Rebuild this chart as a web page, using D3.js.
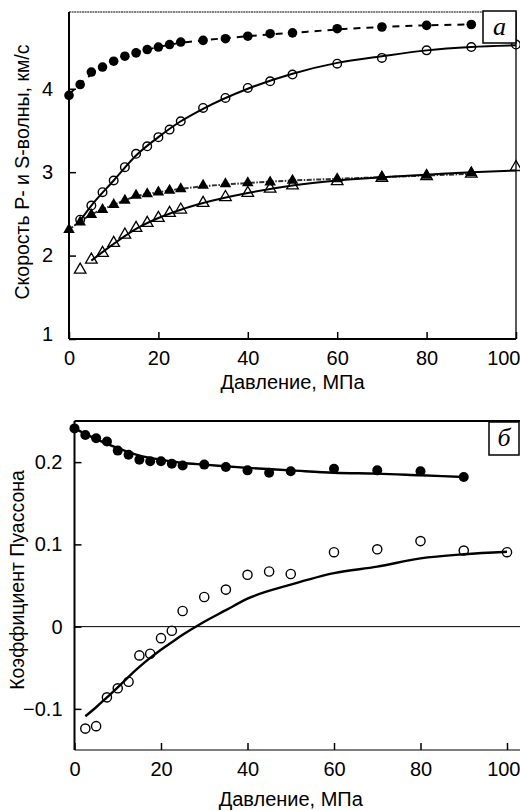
<!DOCTYPE html>
<html>
<head>
<meta charset="utf-8">
<script src="https://cdn.jsdelivr.net/npm/d3@7"></script>
<style>
  body { margin: 0; background: #fff; }
  text { font-family: "Liberation Sans", Arial, sans-serif; fill: #000; }
</style>
</head>
<body>
<svg id="chart"></svg>
<script>
// Pressure steps, MPa
const pressureDry = [0, 2.5, 5, 7.5, 10, 12.5, 15, 17.5, 20, 22.5, 25, 30, 35, 40, 45, 50, 60, 70, 80, 90];
const pressureSat = [2.5, 5, 7.5, 10, 12.5, 15, 17.5, 20, 22.5, 25, 30, 35, 40, 45, 50, 60, 70, 80, 90, 100];

// Panel a: velocities, km/s
const vpDry = [3.92, 4.05, 4.20, 4.26, 4.33, 4.39, 4.43, 4.47, 4.50, 4.53, 4.56, 4.58, 4.60, 4.63, 4.66, 4.67, 4.72, 4.74, 4.76, 4.77];
const vpSat = [2.43, 2.60, 2.76, 2.90, 3.06, 3.22, 3.31, 3.42, 3.51, 3.61, 3.77, 3.89, 4.01, 4.09, 4.17, 4.30, 4.37, 4.46, 4.50, 4.53];
const vsDry = [2.31, 2.40, 2.49, 2.55, 2.61, 2.66, 2.72, 2.74, 2.76, 2.78, 2.80, 2.84, 2.86, 2.87, 2.88, 2.90, 2.92, 2.94, 2.96, 2.99];
const vsSat = [1.83, 1.95, 2.03, 2.15, 2.25, 2.33, 2.39, 2.45, 2.51, 2.55, 2.63, 2.70, 2.75, 2.80, 2.84, 2.89, 2.93, 2.95, 2.98, 3.06];

// Panel a: fitted curves
const fitPressureA = [0, 2.5, 5, 10, 15, 20, 25, 30, 40, 50, 60, 70, 80, 90, 100];
const vpDryFit = [3.93, 4.06, 4.17, 4.32, 4.43, 4.50, 4.55, 4.58, 4.63, 4.67, 4.71, 4.74, 4.76, 4.77, null];
const vpSatFit = [null, 2.42, 2.60, 2.90, 3.20, 3.42, 3.61, 3.76, 4.00, 4.18, 4.31, 4.39, 4.46, 4.50, 4.52];
const vsDryFit = [2.31, 2.41, 2.49, 2.61, 2.71, 2.76, 2.80, 2.83, 2.87, 2.90, 2.92, 2.94, 2.96, 2.98, null];
const vsSatFit = [null, null, 1.94, 2.14, 2.32, 2.45, 2.55, 2.63, 2.75, 2.84, 2.90, 2.94, 2.97, 3.00, 3.02];

// Panel б: Poisson ratio
const prDry = [0.241, 0.233, 0.229, 0.225, 0.214, 0.209, 0.203, 0.201, 0.201, 0.198, 0.196, 0.197, 0.194, 0.190, 0.187, 0.189, 0.192, 0.190, 0.189, 0.182];
const prSat = [-0.124, -0.121, -0.086, -0.075, -0.067, -0.035, -0.033, -0.014, -0.005, 0.019, 0.036, 0.045, 0.063, 0.067, 0.064, 0.0905, 0.094, 0.104, 0.0925, 0.0905];
const fitPressureDryB = [0, 5, 10, 15, 20, 25, 30, 40, 50, 60, 70, 80, 90];
const prDryFit = [0.241, 0.228, 0.217, 0.208, 0.203, 0.199, 0.197, 0.193, 0.190, 0.187, 0.186, 0.184, 0.182];
const fitPressureSatB = [2.5, 5, 7.5, 10, 12.5, 15, 17.5, 20, 22.5, 25, 30, 35, 40, 50, 60, 70, 80, 90, 100];
const prSatFit = [-0.109, -0.098, -0.086, -0.074, -0.061, -0.049, -0.038, -0.028, -0.019, -0.010, 0.006, 0.020, 0.034, 0.051, 0.065, 0.073, 0.083, 0.088, 0.091];

const xTicks = [0, 20, 40, 60, 80, 100];
const yTicksA = [1, 2, 3, 4];
const yTicksB = [-0.1, 0, 0.1, 0.2];

const width = 520;
const height = 811;
const svg = d3.select("#chart").attr("width", width).attr("height", height);

const zip = (xs, ys) => xs.map((x, i) => [x, ys[i]]).filter(d => d[1] != null);

// ---------- Panel a ----------
const xA = d3.scaleLinear().domain([0, 100]).range([69, 516]);
const yA = d3.scaleLinear().domain([1, 4.92]).range([339, 12]);

const gA = svg.append("g");

// x axis (ticks point inward, labels outside)
gA.append("g")
  .attr("transform", `translate(0,${yA(1)})`)
  .call(d3.axisBottom(xA).tickValues(xTicks).tickSizeInner(-7).tickSizeOuter(0).tickPadding(12))
  .call(g => g.select(".domain").remove())
  .call(g => g.selectAll("line").attr("stroke-width", 1.5))
  .call(g => g.selectAll("text").attr("font-size", 20)
    .attr("text-anchor", d => d === 100 ? "end" : "middle")
    .attr("dx", d => d === 100 ? 4 : 0));

gA.append("g")
  .attr("transform", `translate(${xA(0)},0)`)
  .call(d3.axisLeft(yA).tickValues(yTicksA).tickFormat(d3.format("d")).tickSizeInner(-7).tickSizeOuter(0).tickPadding(16))
  .call(g => g.select(".domain").remove())
  .call(g => g.selectAll("line").attr("stroke-width", 1.5))
  .call(g => g.selectAll("text").attr("font-size", 20).attr("dy", d => d === 1 ? "0.05em" : "0.32em"));

// frame
gA.append("line").attr("x1", xA(0)).attr("x2", xA(100)).attr("y1", yA(4.92)).attr("y2", yA(4.92))
  .attr("stroke", "#000").attr("stroke-width", 1).attr("stroke-dasharray", "2,0.6");
gA.append("line").attr("x1", xA(100)).attr("x2", xA(100)).attr("y1", yA(4.92)).attr("y2", yA(1))
  .attr("stroke", "#000").attr("stroke-width", 1.3);
gA.append("line").attr("x1", xA(0)).attr("x2", xA(100)).attr("y1", yA(1)).attr("y2", yA(1))
  .attr("stroke", "#000").attr("stroke-width", 2);
gA.append("line").attr("x1", xA(0)).attr("x2", xA(0)).attr("y1", yA(4.92)).attr("y2", yA(1))
  .attr("stroke", "#000").attr("stroke-width", 2);

const lineA = d3.line().x(d => xA(d[0])).y(d => yA(d[1])).curve(d3.curveMonotoneX);

gA.append("path").datum(zip(fitPressureA, vpDryFit)).attr("d", lineA)
  .attr("fill", "none").attr("stroke", "#000").attr("stroke-width", 2).attr("stroke-dasharray", "7,6");
gA.append("path").datum(zip(fitPressureA, vpSatFit)).attr("d", lineA)
  .attr("fill", "none").attr("stroke", "#000").attr("stroke-width", 2);
gA.append("path").datum(zip(fitPressureA, vsDryFit)).attr("d", lineA)
  .attr("fill", "none").attr("stroke", "#333").attr("stroke-width", 2).attr("stroke-dasharray", "5,1.5,1.5,1.5");
gA.append("path").datum(zip(fitPressureA, vsSatFit)).attr("d", lineA)
  .attr("fill", "none").attr("stroke", "#000").attr("stroke-width", 2);

const tri = d3.symbol().type(d3.symbolTriangle).size(58);

gA.selectAll("circle.vpdry").data(zip(pressureDry, vpDry)).join("circle")
  .attr("cx", d => xA(d[0])).attr("cy", d => yA(d[1])).attr("r", 4.8).attr("fill", "#000");
gA.selectAll("circle.vpsat").data(zip(pressureSat, vpSat)).join("circle")
  .attr("class", "vpsat")
  .attr("cx", d => xA(d[0])).attr("cy", d => yA(d[1])).attr("r", 4.3)
  .attr("fill", "none").attr("stroke", "#000").attr("stroke-width", 1.4);
gA.selectAll("path.vsdry").data(zip(pressureDry, vsDry)).join("path")
  .attr("class", "vsdry").attr("d", tri)
  .attr("transform", d => `translate(${xA(d[0])},${yA(d[1])})`).attr("fill", "#000");
gA.selectAll("path.vssat").data(zip(pressureSat, vsSat)).join("path")
  .attr("class", "vssat").attr("d", tri)
  .attr("transform", d => `translate(${xA(d[0])},${yA(d[1])})`)
  .attr("fill", "none").attr("stroke", "#000").attr("stroke-width", 1.3);

// panel letter
gA.append("rect").attr("x", 483).attr("y", 11).attr("width", 33).attr("height", 32)
  .attr("fill", "#fff").attr("stroke", "#000").attr("stroke-width", 1.5);
gA.append("text").attr("x", 499.5).attr("y", 35).attr("text-anchor", "middle")
  .style("font-family", "'Liberation Serif', serif").style("font-style", "italic")
  .attr("font-size", 26).text("a");

gA.append("text").attr("x", xA(50)).attr("y", 389).attr("text-anchor", "middle")
  .attr("font-size", 20).text("Давление, МПа");
gA.append("text").attr("transform", "translate(29,172) rotate(-90)").attr("text-anchor", "middle")
  .attr("font-size", 19.5).text("Скорость P- и S-волны, км/с");

// ---------- Panel б ----------
const xB = d3.scaleLinear().domain([0, 100]).range([74.5, 507]);
const yB = d3.scaleLinear().domain([-0.15, 0.25]).range([750, 421]);

const gB = svg.append("g");

gB.append("g")
  .attr("transform", `translate(0,${yB(-0.15)})`)
  .call(d3.axisBottom(xB).tickValues(xTicks).tickSizeInner(-7).tickSizeOuter(0).tickPadding(12))
  .call(g => g.select(".domain").remove())
  .call(g => g.selectAll("line").attr("stroke-width", 1.5))
  .call(g => g.selectAll("text").attr("font-size", 20)
    .attr("text-anchor", d => d === 100 ? "end" : "middle")
    .attr("dx", d => d === 100 ? 13 : 0));

gB.append("g")
  .attr("transform", `translate(${xB(0)},0)`)
  .call(d3.axisLeft(yB).tickValues(yTicksB).tickFormat(d => d === 0 ? "0" : d3.format(".1f")(d)).tickSizeInner(-7).tickSizeOuter(0).tickPadding(12))
  .call(g => g.select(".domain").remove())
  .call(g => g.selectAll("line").attr("stroke-width", 1.5))
  .call(g => g.selectAll("text").attr("font-size", 20));

// frame
gB.append("line").attr("x1", xB(0)).attr("x2", width).attr("y1", yB(0.25)).attr("y2", yB(0.25))
  .attr("stroke", "#000").attr("stroke-width", 2);
gB.append("line").attr("x1", xB(0)).attr("x2", width).attr("y1", yB(-0.15)).attr("y2", yB(-0.15))
  .attr("stroke", "#000").attr("stroke-width", 1.2);
gB.append("line").attr("x1", xB(0)).attr("x2", width).attr("y1", yB(0)).attr("y2", yB(0))
  .attr("stroke", "#000").attr("stroke-width", 1);
gB.append("line").attr("x1", xB(0)).attr("x2", xB(0)).attr("y1", yB(0.25)).attr("y2", yB(-0.15))
  .attr("stroke", "#000").attr("stroke-width", 2);

const lineB = d3.line().x(d => xB(d[0])).y(d => yB(d[1])).curve(d3.curveMonotoneX);

gB.append("path").datum(zip(fitPressureDryB, prDryFit)).attr("d", lineB)
  .attr("fill", "none").attr("stroke", "#000").attr("stroke-width", 2.4);
gB.append("path").datum(zip(fitPressureSatB, prSatFit)).attr("d", lineB)
  .attr("fill", "none").attr("stroke", "#000").attr("stroke-width", 2.4);

gB.selectAll("circle.prdry").data(zip(pressureDry, prDry)).join("circle")
  .attr("class", "prdry")
  .attr("cx", d => xB(d[0])).attr("cy", d => yB(d[1])).attr("r", 5).attr("fill", "#000");
gB.selectAll("circle.prsat").data(zip(pressureSat, prSat)).join("circle")
  .attr("class", "prsat")
  .attr("cx", d => xB(d[0])).attr("cy", d => yB(d[1])).attr("r", 4.6)
  .attr("fill", "none").attr("stroke", "#000").attr("stroke-width", 1.4);

gB.append("rect").attr("x", 489).attr("y", 422).attr("width", 30).attr("height", 33)
  .attr("fill", "#fff").attr("stroke", "#000").attr("stroke-width", 1.5);
gB.append("text").attr("x", 504).attr("y", 446).attr("text-anchor", "middle")
  .style("font-family", "'Liberation Serif', serif").style("font-style", "italic")
  .attr("font-size", 26).text("б");

gB.append("text").attr("x", xB(50)).attr("y", 806).attr("text-anchor", "middle")
  .attr("font-size", 20).text("Давление, МПа");
gB.append("text").attr("transform", "translate(24,580) rotate(-90)").attr("text-anchor", "middle")
  .attr("font-size", 19.5).text("Коэффициент Пуассона");
</script>
</body>
</html>
